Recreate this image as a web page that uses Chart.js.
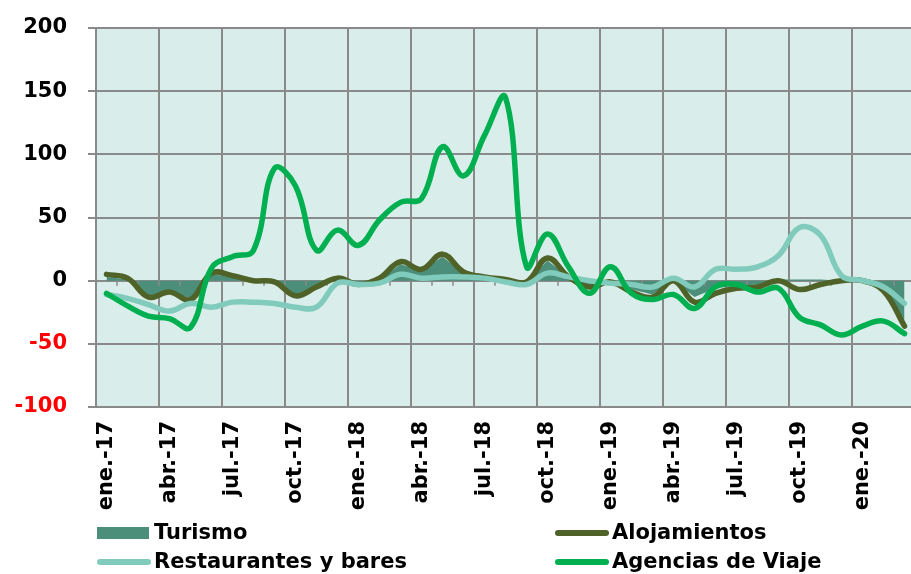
<!DOCTYPE html>
<html>
<head>
<meta charset="utf-8">
<script src="https://cdn.jsdelivr.net/npm/chart.js@4.4.1/dist/chart.umd.min.js"></script>
<style>
  html, body { margin: 0; padding: 0; overflow: hidden; background: #fff; }
  #wrap { position: relative; width: 915px; height: 574px; }
</style>
</head>
<body>
<div id="wrap"><canvas id="myChart"></canvas></div>
<script>
const months = [
  'ene.-17', 'feb.-17', 'mar.-17', 'abr.-17', 'may.-17', 'jun.-17', 'jul.-17', 'ago.-17', 'sep.-17', 'oct.-17', 'nov.-17', 'dic.-17',
  'ene.-18', 'feb.-18', 'mar.-18', 'abr.-18', 'may.-18', 'jun.-18', 'jul.-18', 'ago.-18', 'sep.-18', 'oct.-18', 'nov.-18', 'dic.-18',
  'ene.-19', 'feb.-19', 'mar.-19', 'abr.-19', 'may.-19', 'jun.-19', 'jul.-19', 'ago.-19', 'sep.-19', 'oct.-19', 'nov.-19', 'dic.-19',
  'ene.-20', 'feb.-20', 'mar.-20'
];

const turismo = [3, 1, -12, -9, -14, 5, 3, 0, -1, -11, -5, 1, -2, 1, 13, 8, 19, 6, 2, 1,
  -1, 16, 3, -4, -1, -7, -11, 0, -13, -6, -4, -3, 1, 1, 1, 0, -1, -8, -32];
const alojamientos = [5, 2, -13, -9, -15, 6, 4, 0, -1, -12, -5, 2, -3, 2, 15, 9, 21, 7, 3, 1,
  -1, 18, 3, -5, -1, -9, -13, 0, -17, -10, -6, -5, 0, -7, -3, 0, 0, -8, -36];
const restaurantes = [-11, -14, -19, -24, -18, -21, -17, -17, -18, -21, -21, -2, -3, -2, 5, 2, 3, 3, 2, -1,
  -3, 6, 3, 0, -2, -3, -5, 2, -5, 9, 9, 11, 20, 42, 36, 4, 0, -5, -18];
const agencias = [-10, -20, -28, -30, -37, 10, 19, 24, 89, 75, 24, 40, 28, 48, 62, 65, 106, 83, 115, 145,
  11, 37, 11, -10, 11, -10, -15, -11, -22, -5, -3, -9, -6, -29, -35, -43, -36, -32, -42];

const yMin = -100, yMax = 200, yStep = 50;

const GRID = '#8a8a8a';
const FONT = 'DejaVu Sans';

Chart.defaults.font.family = FONT;
Chart.defaults.font.weight = 'bold';
Chart.defaults.font.size = 21;
Chart.defaults.color = '#000';

const legendItems = [
  { label: 'Turismo', color: '#4b8f7a', box: true, x: 97, y: 533 },
  { label: 'Alojamientos', color: '#4f6228', x: 555, y: 533 },
  { label: 'Restaurantes y bares', color: '#80cbbb', x: 97, y: 562 },
  { label: 'Agencias de Viaje', color: '#00b050', x: 555, y: 562 }
];

const ctx = document.getElementById('myChart').getContext('2d');

// thick smoothed lines like the Excel original
const lineStyle = {
  type: 'line',
  borderWidth: 5.5,
  pointRadius: 0,
  tension: 0.4,
  borderJoinStyle: 'round',
  borderCapStyle: 'round',
  fill: false
};

const config = {
  type: 'line',
  data: {
    labels: months,
    datasets: [
      {
        type: 'line',
        label: 'Turismo',
        data: turismo,
        backgroundColor: '#4b8f7a',
        borderWidth: 0,
        pointRadius: 0,
        tension: 0,
        fill: 'origin',
        order: 3
      },
      { ...lineStyle, label: 'Alojamientos', data: alojamientos, borderColor: '#4f6228', order: 2 },
      { ...lineStyle, label: 'Restaurantes y bares', data: restaurantes, borderColor: '#80cbbb', order: 1 },
      { ...lineStyle, label: 'Agencias de Viaje', data: agencias, borderColor: '#00b050', order: 0 }
    ]
  },
  options: {
    responsive: true,
    maintainAspectRatio: false,
    animation: false,
    layout: {
      padding: { top: 28, right: 0, bottom: 57, left: 0 }
    },
    plugins: {
      legend: { display: false },
      tooltip: { enabled: false }
    },
    scales: {
      x: {
        offset: true,
        grid: {
          offset: true,
          drawTicks: false,
          lineWidth: 2,
          color: (c) => (c.index !== undefined && c.index < months.length && c.index % 3 === 0) ? GRID : 'rgba(0,0,0,0)'
        },
        border: { display: false },
        ticks: {
          autoSkip: false,
          maxRotation: 90,
          minRotation: 90,
          padding: 14,
          callback: (val, i) => i % 3 === 0 ? months[i] : ''
        },
        afterFit: (scale) => {
          scale.height = 110;
          scale.paddingLeft = 0;
          scale.paddingRight = 0;
        }
      },
      y: {
        min: yMin,
        max: yMax,
        ticks: {
          stepSize: yStep,
          padding: 21,
          color: (c) => c.tick && c.tick.value < 0 ? '#ff0000' : '#000000'
        },
        grid: {
          color: GRID,
          lineWidth: 2,
          tickLength: 8
        },
        border: { display: false },
        afterFit: (scale) => {
          scale.width = 96;
          scale.paddingTop = 0;
          scale.paddingBottom = 0;
        }
      }
    }
  },
  plugins: [{
    id: 'plotBackground',
    beforeDraw(chart) {
      const { ctx, chartArea: { top, bottom, left, right } } = chart;
      ctx.save();
      ctx.fillStyle = '#d9eeea';
      ctx.fillRect(left, top, right - left, bottom - top);
      ctx.restore();
    }
  }, {
    id: 'zeroAxis',
    afterDatasetDraw(chart, args) {
      if (args.index !== 0) return;
      const { ctx, scales: { x, y } } = chart;
      const y0 = y.getPixelForValue(0);
      ctx.save();
      ctx.strokeStyle = GRID;
      ctx.lineWidth = 1.5;
      for (let i = 1; i < months.length; i++) {
        const bx = (x.getPixelForValue(i - 1) + x.getPixelForValue(i)) / 2;
        ctx.beginPath();
        ctx.moveTo(bx, y0);
        ctx.lineTo(bx, y0 + 5);
        ctx.stroke();
      }
      ctx.restore();
    }
  }, {
    id: 'customLegend',
    afterDraw(chart) {
      const { ctx } = chart;
      ctx.save();
      ctx.font = 'bold 21px "' + FONT + '"';
      ctx.textBaseline = 'middle';
      ctx.textAlign = 'left';
      legendItems.forEach(item => {
        if (item.box) {
          ctx.fillStyle = item.color;
          ctx.fillRect(item.x, item.y - 6, 52, 12);
        } else {
          ctx.strokeStyle = item.color;
          ctx.lineWidth = 6;
          ctx.lineCap = 'round';
          ctx.beginPath();
          ctx.moveTo(item.x + 3, item.y);
          ctx.lineTo(item.x + 51, item.y);
          ctx.stroke();
        }
        ctx.fillStyle = '#000';
        ctx.fillText(item.label, item.x + 57, item.y + 1);
      });
      ctx.restore();
    }
  }]
};

const myChart = new Chart(ctx, config);
</script>
</body>
</html>
